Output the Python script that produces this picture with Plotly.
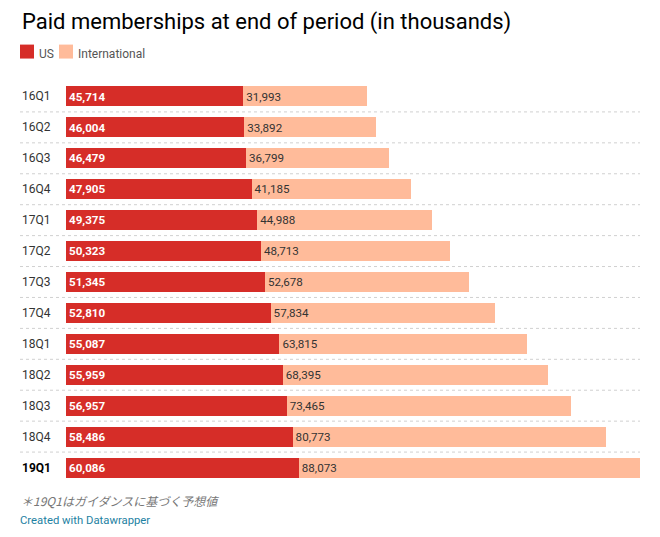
import plotly.graph_objects as go

quarters = ["16Q1","16Q2","16Q3","16Q4","17Q1","17Q2","17Q3","17Q4","18Q1","18Q2","18Q3","18Q4","19Q1"]
us = [45714,46004,46479,47905,49375,50323,51345,52810,55087,55959,56957,58486,60086]
intl = [31993,33892,36799,41185,44988,48713,52678,57834,63815,68395,73465,80773,88073]

RED = "#d62d28"
PEACH = "#ffbb9a"
FONT = "Roboto"

# page body has 8px default margin; compensate
OFF = 8
W, H = 660 - OFF, 537 - OFF
L, R, T, B = 66 - OFF, 20, 80.5 - OFF, 53.5
pw = W - L - R
ph = H - T - B

def px(x):
    return (x - OFF - L) / pw

def py(y):
    return 1 - (y - OFF - T) / ph

idx = list(range(len(quarters)))
fig = go.Figure()
fig.add_trace(go.Bar(
    y=idx, x=us, orientation="h", marker=dict(color=RED, line=dict(width=0)),
    width=0.645, name="US",
    text=[f"<b>{v:,}</b>" for v in us], textposition="inside", insidetextanchor="start",
    textfont=dict(color="white", size=12.5, family=FONT), hoverinfo="skip",
))
fig.add_trace(go.Bar(
    y=idx, x=intl, orientation="h", marker=dict(color=PEACH, line=dict(width=0)),
    width=0.645, name="International",
    text=[f"{v:,}" for v in intl], textposition="inside", insidetextanchor="start",
    textfont=dict(color="#333333", size=12.5, family=FONT), hoverinfo="skip",
))

annotations = []
shapes = []
for i, q in enumerate(quarters):
    last = i == len(quarters) - 1
    annotations.append(dict(
        x=px(20), xref="paper", y=i, yref="y", xanchor="left", yanchor="middle",
        text=f"<b>{q}</b>" if last else q, showarrow=False,
        font=dict(size=12, color="#000000" if last else "#333333", family=FONT),
    ))
    if not last:
        shapes.append(dict(type="line", xref="paper", yref="y", x0=px(20), x1=px(640),
                           y0=i + 0.5, y1=i + 0.5,
                           line=dict(color="#d0d0d0", width=1, dash="dot")))

# title
annotations.append(dict(x=px(20), xref="paper", y=py(21), yref="paper", xanchor="left", yanchor="middle",
                        text="Paid memberships at end of period (in thousands)", showarrow=False,
                        font=dict(size=22, color="#000000", family=FONT)))
# legend
shapes.append(dict(type="rect", xref="paper", yref="paper", x0=px(20), x1=px(34), y0=py(44), y1=py(58),
                   fillcolor=RED, line=dict(width=0)))
shapes.append(dict(type="rect", xref="paper", yref="paper", x0=px(59), x1=px(73), y0=py(44), y1=py(58),
                   fillcolor=PEACH, line=dict(width=0)))
annotations.append(dict(x=px(37), xref="paper", y=py(53), yref="paper", xanchor="left", yanchor="middle",
                        text="US", showarrow=False, font=dict(size=12, color="#555555", family=FONT)))
annotations.append(dict(x=px(76), xref="paper", y=py(53), yref="paper", xanchor="left", yanchor="middle",
                        text="International", showarrow=False, font=dict(size=12, color="#555555", family=FONT)))
# footnote
annotations.append(dict(x=px(19), xref="paper", y=py(501), yref="paper", xanchor="left", yanchor="middle",
                        text="<i>＊19Q1はガイダンスに基づく予想値</i>", showarrow=False,
                        font=dict(size=12, color="#777777", family="Noto Sans CJK JP")))
annotations.append(dict(x=px(18), xref="paper", y=py(521), yref="paper", xanchor="left", yanchor="middle",
                        text="Created with Datawrapper", showarrow=False,
                        font=dict(size=11.3, color="#1d81a2", family=FONT)))

fig.update_layout(
    width=W, height=H, barmode="stack", showlegend=False,
    margin=dict(l=L, r=R, t=T, b=B, pad=0),
    paper_bgcolor="white", plot_bgcolor="white",
    xaxis=dict(range=[0, 148159], visible=False, fixedrange=True),
    yaxis=dict(range=[12.5, -0.5], visible=False, fixedrange=True),
    annotations=annotations, shapes=shapes,
    uniformtext=dict(minsize=8, mode="show"),
    font=dict(family=FONT),
)
fig.write_html("out.html", config={"displayModeBar": False})
